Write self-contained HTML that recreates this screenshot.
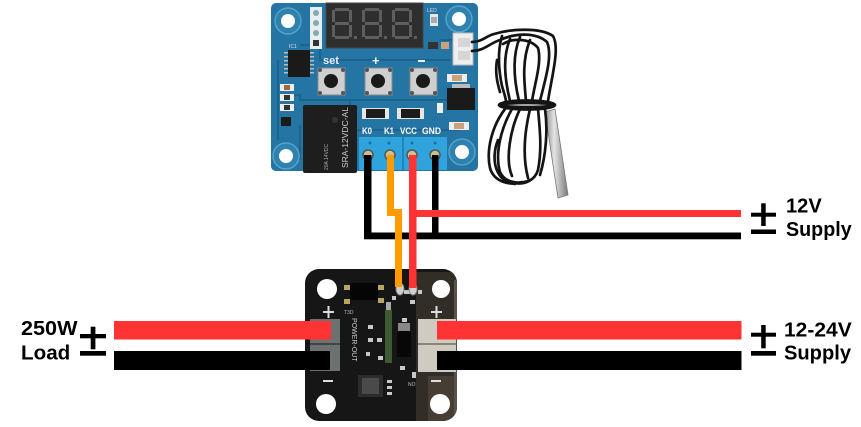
<!DOCTYPE html>
<html><head><meta charset="utf-8"><style>
html,body{margin:0;padding:0;background:#fff;}
svg{display:block;}
text{font-family:"Liberation Sans",Arial,sans-serif;}
</style></head><body>
<svg width="861" height="427" viewBox="0 0 861 427" xmlns="http://www.w3.org/2000/svg">
<defs>
<linearGradient id="pg" x1="0" y1="0" x2="1" y2="0"><stop offset="0" stop-color="#8c8c8c"/><stop offset="0.4" stop-color="#e4e4e4"/><stop offset="1" stop-color="#7a7a7a"/></linearGradient>
<clipPath id="pb"><rect x="305" y="269" width="152" height="152" rx="14"/></clipPath>
</defs>
<rect width="861" height="427" fill="#fff"/>

<!-- ===== Thermostat board ===== -->
<rect x="271" y="3" width="207" height="168" rx="5" fill="#2474a4"/>
<g stroke="#1c6490" stroke-width="2" fill="none">
<path d="M300 45 H320 V60 H450"/><path d="M280 95 H300 V100 H470"/><path d="M300 125 H300 V160"/>
<path d="M440 40 H470"/><path d="M350 100 V130 H460"/><path d="M278 60 V140"/>
</g>
<g>
<circle cx="288" cy="21" r="13" fill="#2f82b0" stroke="#56a2c8" stroke-width="1.5"/><circle cx="288" cy="21" r="7" fill="#fff"/>
<circle cx="459" cy="19" r="13" fill="#2f82b0" stroke="#56a2c8" stroke-width="1.5"/><circle cx="459" cy="19" r="7" fill="#fff"/>
<circle cx="286" cy="156" r="13" fill="#2f82b0" stroke="#56a2c8" stroke-width="1.5"/><circle cx="286" cy="156" r="7" fill="#fff"/>
<circle cx="462" cy="152" r="13" fill="#2f82b0" stroke="#56a2c8" stroke-width="1.5"/><circle cx="462" cy="152" r="7" fill="#fff"/>
</g>
<rect x="310" y="7" width="12" height="42" fill="#e6eef2"/>
<g fill="#8aa"><rect x="313" y="10" width="6" height="6" rx="3"/><rect x="313" y="20" width="6" height="6" rx="3"/><rect x="313" y="30" width="6" height="6" rx="3"/><rect x="313" y="40" width="6" height="6" fill="#333"/></g>
<rect x="326" y="3" width="97" height="45" fill="#2e2e2e" stroke="#444" stroke-width="1"/>
<g fill="#5e5e5e">
<rect x="335" y="8" width="14" height="3"/><rect x="335" y="22" width="14" height="3"/><rect x="335" y="36" width="14" height="3"/>
<rect x="332" y="10" width="3" height="12"/><rect x="349" y="10" width="3" height="12"/><rect x="332" y="25" width="3" height="12"/><rect x="349" y="25" width="3" height="12"/><rect x="354" y="36" width="3" height="3"/>
<rect x="365" y="8" width="14" height="3"/><rect x="365" y="22" width="14" height="3"/><rect x="365" y="36" width="14" height="3"/>
<rect x="362" y="10" width="3" height="12"/><rect x="379" y="10" width="3" height="12"/><rect x="362" y="25" width="3" height="12"/><rect x="379" y="25" width="3" height="12"/><rect x="384" y="36" width="3" height="3"/>
<rect x="395" y="8" width="14" height="3"/><rect x="395" y="22" width="14" height="3"/><rect x="395" y="36" width="14" height="3"/>
<rect x="392" y="10" width="3" height="12"/><rect x="409" y="10" width="3" height="12"/><rect x="392" y="25" width="3" height="12"/><rect x="409" y="25" width="3" height="12"/><rect x="414" y="36" width="3" height="3"/>
</g>
<rect x="430" y="14" width="8" height="12" fill="#e8e8e8"/><rect x="431" y="17" width="6" height="6" fill="#aaa"/>
<rect x="428" y="42" width="10" height="7" fill="#333"/><rect x="441" y="42" width="8" height="7" fill="#c9a27a"/>
<text x="427" y="12" font-size="5" fill="#dde">LED</text>
<rect x="453" y="33" width="20" height="32" fill="#eeeeee" stroke="#bbb"/>
<rect x="458" y="38" width="12" height="9" fill="#d6d6d6"/><rect x="458" y="51" width="12" height="9" fill="#d6d6d6"/>
<rect x="288" y="50" width="22" height="27" fill="#1a1a1a"/>
<g fill="#bbb"><rect x="284" y="52" width="4" height="1.5"/><rect x="284" y="56" width="4" height="1.5"/><rect x="284" y="60" width="4" height="1.5"/><rect x="284" y="64" width="4" height="1.5"/><rect x="284" y="68" width="4" height="1.5"/><rect x="284" y="72" width="4" height="1.5"/>
<rect x="310" y="52" width="4" height="1.5"/><rect x="310" y="56" width="4" height="1.5"/><rect x="310" y="60" width="4" height="1.5"/><rect x="310" y="64" width="4" height="1.5"/><rect x="310" y="68" width="4" height="1.5"/><rect x="310" y="72" width="4" height="1.5"/></g>
<text x="289" y="48" font-size="5" fill="#dde">IC1</text>
<text x="323" y="64" font-size="11" font-weight="bold" fill="#eef">set</text>
<text x="372" y="65" font-size="13" font-weight="bold" fill="#eef">+</text>
<rect x="418" y="60" width="7" height="2" fill="#eef"/>
<g>
<rect x="318" y="68" width="27" height="27" fill="#cfcfcf" stroke="#8a8a8a"/><circle cx="331" cy="81" r="7" fill="#1a1a1a"/>
<rect x="365" y="68" width="27" height="27" fill="#cfcfcf" stroke="#8a8a8a"/><circle cx="378" cy="81" r="7" fill="#1a1a1a"/>
<rect x="410" y="68" width="27" height="27" fill="#cfcfcf" stroke="#8a8a8a"/><circle cx="423" cy="81" r="7" fill="#1a1a1a"/>
</g>
<g fill="#555"><circle cx="320" cy="70" r="2"/><circle cx="343" cy="70" r="2"/><circle cx="320" cy="93" r="2"/><circle cx="343" cy="93" r="2"/>
<circle cx="367" cy="70" r="2"/><circle cx="390" cy="70" r="2"/><circle cx="367" cy="93" r="2"/><circle cx="390" cy="93" r="2"/>
<circle cx="412" cy="70" r="2"/><circle cx="435" cy="70" r="2"/><circle cx="412" cy="93" r="2"/><circle cx="435" cy="93" r="2"/></g>
<g><rect x="280" y="84" width="14" height="7" fill="#eee"/><rect x="284" y="85" width="6" height="5" fill="#a0683a"/>
<rect x="280" y="94" width="14" height="7" fill="#eee"/><rect x="284" y="95" width="6" height="5" fill="#333"/>
<rect x="280" y="104" width="14" height="7" fill="#eee"/><rect x="284" y="105" width="6" height="5" fill="#333"/>
<rect x="281" y="117" width="10" height="9" fill="#1a1a1a"/></g>
<g><rect x="447" y="74" width="20" height="8" fill="#eee"/><rect x="452" y="75" width="10" height="6" fill="#c9a27a"/>
<rect x="447" y="88" width="28" height="22" fill="#1a1a1a"/><rect x="452" y="84" width="18" height="4" fill="#bbb"/>
<rect x="449" y="122" width="20" height="8" fill="#eee"/><rect x="454" y="123" width="10" height="6" fill="#c9a27a"/>
<rect x="437" y="103" width="6" height="10" fill="#eee"/></g>
<rect x="362" y="108" width="27" height="11" fill="#e6e6e6"/><rect x="366" y="109" width="19" height="9" fill="#1c1c1c"/>
<rect x="397" y="108" width="27" height="11" fill="#e6e6e6"/><rect x="401" y="109" width="19" height="9" fill="#1c1c1c"/>
<rect x="303" y="105" width="54" height="68" rx="2" fill="#1e1e1e"/>
<text transform="translate(348,168) rotate(-90)" font-size="8.5" fill="#ccc">SRA-12VDC-AL</text>
<text transform="translate(328,170) rotate(-90)" font-size="5" fill="#aaa">20A 14VDC</text>
<circle cx="335" cy="120" r="3" fill="#333"/>
<g font-size="9.5" fill="#fff" font-weight="bold">
<text x="362" y="134" textLength="10" lengthAdjust="spacingAndGlyphs">K0</text>
<text x="384" y="134" textLength="10" lengthAdjust="spacingAndGlyphs">K1</text>
<text x="400" y="134" textLength="17" lengthAdjust="spacingAndGlyphs">VCC</text>
<text x="422" y="134" textLength="19" lengthAdjust="spacingAndGlyphs">GND</text>
</g>
<rect x="359" y="137" width="88" height="33" fill="#2ea3dc"/>
<rect x="402" y="137" width="2" height="33" fill="#1e86bb"/>
<g fill="#1c6f9c"><circle cx="370" cy="143" r="1.5"/><circle cx="389" cy="143" r="1.5"/><circle cx="412" cy="143" r="1.5"/><circle cx="435" cy="143" r="1.5"/></g>
<g fill="#c8c290" stroke="#555" stroke-width="1.5"><circle cx="368" cy="155" r="5"/><circle cx="390" cy="155" r="5"/><circle cx="412" cy="155" r="5"/><circle cx="435" cy="155" r="5"/></g>

<!-- ===== Sensor cable ===== -->
<polygon points="545,112 555,109 568,195 558,198" fill="url(#pg)" stroke="#777" stroke-width="0.8"/>
<g fill="none" stroke="#141414" stroke-width="2.7" stroke-linecap="round">
<path d="M472,42 C482,42 486,36 494,34 C510,29 540,27 553,36 C560,48 552,75 548,101"/>
<path d="M472,51 C484,51 490,43 500,40 C515,33 536,32 547,42 C553,56 545,80 540,101"/>
<path d="M503,44 C512,38 530,38 538,48 C542,62 535,82 532,101"/>
<path d="M502,36 C497,52 499,72 502,86 C504,93 506,98 506,102"/>
<path d="M510,39 C503,56 504,76 510,101"/>
<path d="M520,37 C512,56 514,80 519,101"/>
<path d="M530,40 C522,60 524,80 526,101"/>
<path d="M497,60 C495,72 497,82 500,92"/>
<ellipse cx="527" cy="105" rx="28" ry="4.5"/>
<ellipse cx="527" cy="105" rx="26" ry="2"/>
<path d="M505,109 C492,126 486,150 490,168 C494,182 510,186 522,182"/>
<path d="M512,109 C500,130 495,155 500,172 C505,183 520,185 530,180"/>
<path d="M520,109 C510,130 505,160 512,176"/>
<path d="M530,109 C525,130 522,155 528,178"/>
<path d="M538,109 C540,130 542,150 538,170 C535,180 525,185 515,183"/>
<path d="M545,109 C548,130 546,155 540,175"/>
<path d="M498,140 C490,160 496,182 515,184"/>
</g>

<!-- ===== Power board ===== -->
<rect x="305" y="269" width="152" height="152" rx="14" fill="#161616"/>
<g clip-path="url(#pb)">
<rect x="416" y="272" width="45" height="150" fill="#332d27"/>
<rect x="428" y="376" width="33" height="46" fill="#463e34"/>
<rect x="454" y="280" width="6" height="140" fill="#5a5247"/>
</g>
<rect x="310" y="319" width="30" height="52" fill="#6c7272"/>
<rect x="310" y="343" width="30" height="2" fill="#444"/>
<rect x="418" y="319" width="38" height="53" fill="#cfcbc0"/>
<rect x="418" y="343" width="38" height="2" fill="#8a857a"/>
<circle cx="327" cy="289" r="10" fill="#fff"/>
<circle cx="441" cy="289" r="9" fill="#fff"/>
<circle cx="326" cy="404" r="10" fill="#fff"/>
<circle cx="440" cy="404" r="10" fill="#fff"/>
<g fill="#ddd"><rect x="323" y="311" width="11" height="2"/><rect x="327.5" y="306" width="2" height="12"/>
<rect x="431" y="311" width="11" height="2"/><rect x="435.5" y="306" width="2" height="12"/>
<rect x="323" y="380" width="10" height="2"/><rect x="431" y="380" width="10" height="2"/></g>
<rect x="350" y="283" width="28" height="17" fill="#050505"/>
<g fill="#b9a760"><rect x="344" y="285" width="6" height="5"/><rect x="344" y="299" width="6" height="5"/><rect x="378" y="285" width="6" height="5"/><rect x="378" y="298" width="6" height="5"/></g>
<text x="344" y="314" font-size="5" fill="#bbb">T3D</text>
<rect x="385" y="310" width="7" height="53" fill="#3e5a32"/>
<rect x="386" y="302" width="5" height="8" fill="#aaa"/>
<rect x="397" y="331" width="14" height="26" fill="#070707"/>
<rect x="398" y="323" width="12" height="8" fill="#888"/>
<rect x="358" y="375" width="25" height="22" fill="#2c2c2c"/>
<rect x="362" y="378" width="17" height="16" fill="#4a4a4a"/>
<g fill="#c8c8c8">
<rect x="368" y="325" width="5" height="4"/><rect x="368" y="338" width="5" height="4"/><rect x="377" y="338" width="5" height="4"/>
<rect x="366" y="352" width="4" height="4"/><rect x="378" y="356" width="5" height="4"/>
<rect x="387" y="380" width="5" height="3"/><rect x="387" y="386" width="5" height="3"/><rect x="387" y="392" width="5" height="3"/>
<rect x="404" y="290" width="6" height="4"/><rect x="410" y="300" width="5" height="4"/><rect x="402" y="318" width="5" height="4"/>
<rect x="400" y="366" width="5" height="4"/><rect x="412" y="372" width="4" height="6"/>
<rect x="418" y="290" width="4" height="4"/><rect x="392" y="296" width="4" height="4"/>
</g>
<text transform="translate(352,318) rotate(90)" font-size="7" fill="#ccc">POWER-OUT</text>
<text x="408" y="386" font-size="5" fill="#bbb">NO</text>
<ellipse cx="400" cy="289" rx="4" ry="6" fill="#cfcfcf" stroke="#888"/>
<ellipse cx="413" cy="289" rx="4" ry="6" fill="#cfcfcf" stroke="#888"/>

<!-- ===== Thin wires ===== -->
<rect x="364" y="155" width="7.5" height="84" fill="#000"/>
<rect x="364" y="232.5" width="377" height="6.8" fill="#000"/>
<rect x="432" y="155" width="6.5" height="80" fill="#000"/>
<rect x="409" y="210" width="332" height="7" fill="#ff3333"/>
<rect x="409" y="155" width="7.5" height="133" fill="#ff3333"/>
<polygon points="387,155 394,155 394,209 402,209 402,287 395,287 395,216 387,216" fill="#ff9a00"/>

<!-- ===== Thick wires ===== -->
<rect x="114" y="321" width="217" height="18.5" fill="#ff3333"/>
<rect x="114" y="351" width="216" height="19" fill="#000"/>
<rect x="437" y="321" width="304.5" height="18.5" fill="#ff3333"/>
<rect x="437" y="351" width="304.5" height="19" fill="#000"/>

<!-- ===== Labels ===== -->
<g font-weight="bold" font-size="20" fill="#000">
<text x="786" y="212.7" textLength="35.7" lengthAdjust="spacingAndGlyphs">12V</text>
<text x="786" y="235.8" textLength="65.7" lengthAdjust="spacingAndGlyphs">Supply</text>
<text x="784" y="336.6" textLength="67.7" lengthAdjust="spacingAndGlyphs">12-24V</text>
<text x="784" y="359.3" textLength="67" lengthAdjust="spacingAndGlyphs">Supply</text>
<text x="21" y="334.8" textLength="56.5" lengthAdjust="spacingAndGlyphs">250W</text>
<text x="21" y="359.3" textLength="49.3" lengthAdjust="spacingAndGlyphs">Load</text>
</g>
<g fill="#000">
<rect x="751" y="212.7" width="25" height="4"/><rect x="761.2" y="203.3" width="4.5" height="22.7"/><rect x="751" y="229.5" width="25" height="4.5"/>
<rect x="751" y="332.7" width="25" height="4"/><rect x="761.2" y="325" width="4.5" height="23.3"/><rect x="751" y="351" width="25" height="4.7"/>
<rect x="80" y="334" width="26" height="4.3"/><rect x="90.7" y="326.7" width="4.7" height="22.6"/><rect x="80" y="351" width="26" height="4.7"/>
</g>
</svg>
</body></html>
